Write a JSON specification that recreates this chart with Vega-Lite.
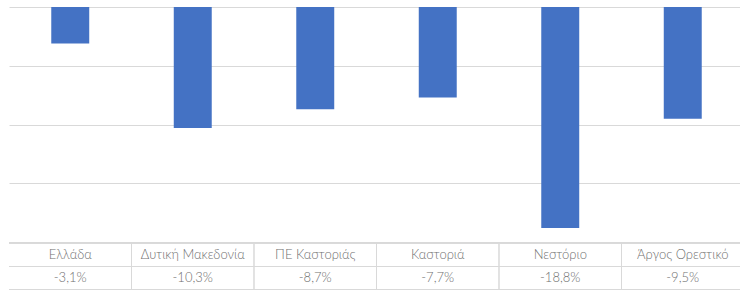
{
  "$schema": "https://vega.github.io/schema/vega-lite/v6.json",
  "padding": {"top": 7, "left": 8, "right": 0, "bottom": 1},
  "background": "white",
  "config": {"view": {"stroke": null}, "concat": {"spacing": 0}},
  "spacing": 0,
  "datasets": {
    "d": [
      {"cat": "Ελλάδα", "v": -3.1},
      {"cat": "Δυτική Μακεδονία", "v": -10.3},
      {"cat": "ΠΕ Καστοριάς", "v": -8.7},
      {"cat": "Καστοριά", "v": -7.7},
      {"cat": "Νεστόριο", "v": -18.8},
      {"cat": "Άργος Ορεστικό", "v": -9.5}
    ]
  },
  "vconcat": [
    {
      "width": 735,
      "height": 235,
      "data": {"name": "d"},
      "mark": {"type": "bar", "color": "#4472C4"},
      "encoding": {
        "x": {"field": "cat", "type": "nominal", "axis": null,
              "sort": ["Ελλάδα", "Δυτική Μακεδονία", "ΠΕ Καστοριάς", "Καστοριά", "Νεστόριο", "Άργος Ορεστικό"],
              "scale": {"paddingInner": 0.69, "paddingOuter": 0.345}},
        "y": {"field": "v", "type": "quantitative",
              "scale": {"domain": [-20, 0], "nice": false},
              "axis": {"grid": true, "gridColor": "#d9d9d9", "values": [0, -5, -10, -15, -20],
                       "labels": false, "ticks": false, "domain": false, "title": null}}
      }
    },
    {
      "width": 735,
      "height": 47,
      "data": {"name": "d"},
      "transform": [
        {"calculate": "'-' + replace(format(abs(datum.v), '.1f'), '.', ',') + '%'", "as": "txt"},
        {"fold": ["cat", "txt"], "as": ["row", "label"]}
      ],
      "layer": [
        {
          "mark": {"type": "rule", "color": "#d9d9d9"},
          "transform": [{"filter": "datum.cat !== 'Ελλάδα'"}],
          "encoding": {
            "x": {"field": "cat", "type": "nominal", "bandPosition": 0, "axis": null,
                  "sort": ["Ελλάδα", "Δυτική Μακεδονία", "ΠΕ Καστοριάς", "Καστοριά", "Νεστόριο", "Άργος Ορεστικό"]}
          }
        },
        {
          "mark": {"type": "rule", "color": "#d9d9d9"},
          "encoding": {
            "y": {"field": "row", "type": "nominal", "sort": ["cat", "txt"], "bandPosition": 0, "axis": null}
          }
        },
        {
          "mark": {"type": "rule", "color": "#d9d9d9"},
          "encoding": {
            "y": {"field": "row", "type": "nominal", "sort": ["cat", "txt"], "bandPosition": 1, "axis": null}
          }
        },
        {
          "mark": {"type": "text", "font": "Lato", "fontSize": 13, "fontWeight": 300, "color": "#707070"},
          "encoding": {
            "x": {"field": "cat", "type": "nominal", "axis": null,
                  "sort": ["Ελλάδα", "Δυτική Μακεδονία", "ΠΕ Καστοριάς", "Καστοριά", "Νεστόριο", "Άργος Ορεστικό"],
                  "scale": {"paddingInner": 0, "paddingOuter": 0}},
            "y": {"field": "row", "type": "nominal", "sort": ["cat", "txt"], "axis": null,
                  "scale": {"paddingInner": 0, "paddingOuter": 0}},
            "text": {"field": "label"}
          }
        }
      ]
    }
  ]
}
